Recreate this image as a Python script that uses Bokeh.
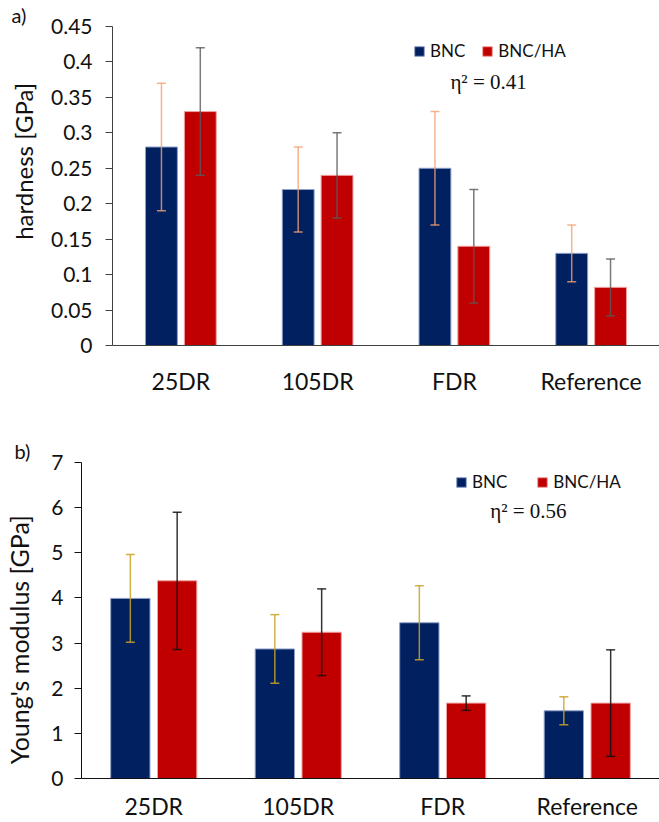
from bokeh.plotting import figure
from bokeh.models import (ColumnDataSource, FactorRange, Range1d, Whisker, TeeHead,
                          Legend, LegendItem, Label, FixedTicker, Title)
from bokeh.transform import dodge
from bokeh.layouts import column
from bokeh.embed import file_html
from bokeh.resources import INLINE

categories = ["25DR", "105DR", "FDR", "Reference"]
series = ["BNC", "BNC/HA"]

hard_bnc = [0.28, 0.22, 0.25, 0.13]
hard_bnc_err = [0.09, 0.06, 0.08, 0.04]
hard_ha = [0.33, 0.24, 0.14, 0.082]
hard_ha_err = [0.09, 0.06, 0.08, 0.04]
hard_ticks = [0, 0.05, 0.1, 0.15, 0.2, 0.25, 0.3, 0.35, 0.4, 0.45]
hard_tick_labels = ["0", "0.05", "0.1", "0.15", "0.2", "0.25", "0.3", "0.35", "0.4", "0.45"]
hard_ylabel = "hardness [GPa]"
hard_eta = "η² = 0.41"

mod_bnc = [3.99, 2.87, 3.45, 1.50]
mod_bnc_err = [0.97, 0.76, 0.82, 0.31]
mod_ha = [4.38, 3.24, 1.67, 1.67]
mod_ha_err = [1.52, 0.96, 0.16, 1.18]
mod_ticks = [0, 1, 2, 3, 4, 5, 6, 7]
mod_tick_labels = ["0", "1", "2", "3", "4", "5", "6", "7"]
mod_ylabel = "Young's modulus [GPa]"
mod_eta = "η² = 0.56"

NAVY = "#002060"
RED = "#C00000"
SANS = "Lato"
SERIF = "Liberation Serif"
NBSP = "\u00a0"


def make_panel(width, height, borders, ymax, ticks, tick_labels, ylabel, ylabel_size,
               bnc, bnc_err, ha, ha_err, bar_w, off, err_colors, err_alpha,
               legend_loc, legend_spacing, eta_text, eta_pos, tag, tag_offset, axis_color,
               tick_standoff, ylabel_standoff, x_standoff):
    left, right, top, bottom = borders
    p = figure(width=width, height=height, output_backend="svg", toolbar_location=None,
               x_range=FactorRange(*categories, range_padding=0),
               y_range=Range1d(0, ymax),
               min_border_left=left, min_border_right=right,
               min_border_top=top, min_border_bottom=bottom)
    p.frame_align = False
    p.outline_line_color = None
    p.xgrid.grid_line_color = None
    p.ygrid.grid_line_color = None

    p.add_layout(Title(text=tag, align="left", offset=tag_offset, standoff=0,
                       text_font=SANS, text_font_size="20px", text_font_style="normal",
                       text_color="#111111", vertical_align="bottom"), "above")

    src = ColumnDataSource(dict(
        cat=categories,
        bnc=bnc, ha=ha,
        bnc_up=[v + e for v, e in zip(bnc, bnc_err)],
        bnc_lo=[v - e for v, e in zip(bnc, bnc_err)],
        ha_up=[v + e for v, e in zip(ha, ha_err)],
        ha_lo=[v - e for v, e in zip(ha, ha_err)],
    ))

    r1 = p.vbar(x=dodge("cat", -off, range=p.x_range), top="bnc", width=bar_w, source=src,
                fill_color=NAVY, line_color="#8FA0C8", line_width=1)
    r2 = p.vbar(x=dodge("cat", off, range=p.x_range), top="ha", width=bar_w, source=src,
                fill_color=RED, line_color="#F0A0A0", line_width=1)

    for shift, up, lo, col in [(-off, "bnc_up", "bnc_lo", err_colors[0]),
                               (off, "ha_up", "ha_lo", err_colors[1])]:
        w = Whisker(source=src, base=dodge("cat", shift, range=p.x_range), upper=up, lower=lo,
                    level="overlay",
                    line_color=col, line_width=1.5, line_alpha=err_alpha,
                    upper_head=TeeHead(size=9, line_color=col, line_width=1.5, line_alpha=err_alpha),
                    lower_head=TeeHead(size=9, line_color=col, line_width=1.5, line_alpha=err_alpha))
        p.add_layout(w)

    legend = Legend(items=[LegendItem(label=series[0], renderers=[r1]),
                           LegendItem(label=series[1], renderers=[r2])],
                    orientation="horizontal", location=legend_loc,
                    glyph_width=12, glyph_height=12, label_standoff=5,
                    spacing=legend_spacing, padding=0, margin=0,
                    border_line_color=None, background_fill_alpha=0,
                    label_text_font=SANS, label_text_font_size="17px",
                    label_text_color="#111111", label_height=20)
    p.add_layout(legend, "center")

    p.add_layout(Label(x=eta_pos[0], y=eta_pos[1], text=eta_text, text_font=SERIF,
                       text_font_size="21px", text_align="center", text_baseline="middle",
                       text_color="#111111"))

    ya = p.yaxis[0]
    ya.ticker = FixedTicker(ticks=ticks)
    ya.major_label_overrides = {t: l for t, l in zip(ticks, tick_labels)}
    ya.minor_tick_line_color = None
    ya.major_tick_in = 0
    ya.major_tick_out = 7
    ya.major_tick_line_color = axis_color
    ya.axis_line_color = axis_color
    ya.major_label_text_font = SANS
    ya.major_label_text_font_size = "21px"
    ya.major_label_text_color = "#111111"
    ya.major_label_standoff = tick_standoff
    ya.axis_label = ylabel
    ya.axis_label_text_font = SANS
    ya.axis_label_text_font_size = ylabel_size
    ya.axis_label_text_font_style = "normal"
    ya.axis_label_text_color = "#111111"
    ya.axis_label_standoff = ylabel_standoff

    xa = p.xaxis[0]
    xa.major_tick_line_color = None
    xa.major_tick_out = 0
    xa.major_tick_in = 0
    xa.minor_tick_line_color = None
    xa.minor_tick_out = 0
    xa.axis_line_color = axis_color
    xa.major_label_text_font = SANS
    xa.major_label_text_font_size = "23px"
    xa.major_label_text_line_height = 1.0
    xa.major_label_text_color = "#111111"
    xa.major_label_standoff = x_standoff
    return p


p1 = make_panel(659, 398, (112, 0, 24, 53), 0.45, hard_ticks, hard_tick_labels,
                NBSP * 8 + hard_ylabel, "24px", hard_bnc, hard_bnc_err, hard_ha, hard_ha_err,
                0.233, 0.142, ("#F4A070", "#595959"), 0.8,
                (301, 284), 16, hard_eta, (2.75, 0.372), "a)", -101, "#404040",
                13, 10, 21)

p2 = make_panel(659, 424, (81, 0, 64, 44), 7, mod_ticks, mod_tick_labels,
                mod_ylabel + NBSP * 6, "25px", mod_bnc, mod_bnc_err, mod_ha, mod_ha_err,
                0.272, 0.162, ("#C9A227", "#111111"), 0.85,
                (374, 286), 29, mod_eta, (3.093, 5.93), "b)", -67, "#111111",
                11, 14, 13)

layout = column(p1, p2, spacing=0)
open("out.html", "w").write(file_html(layout, INLINE))
